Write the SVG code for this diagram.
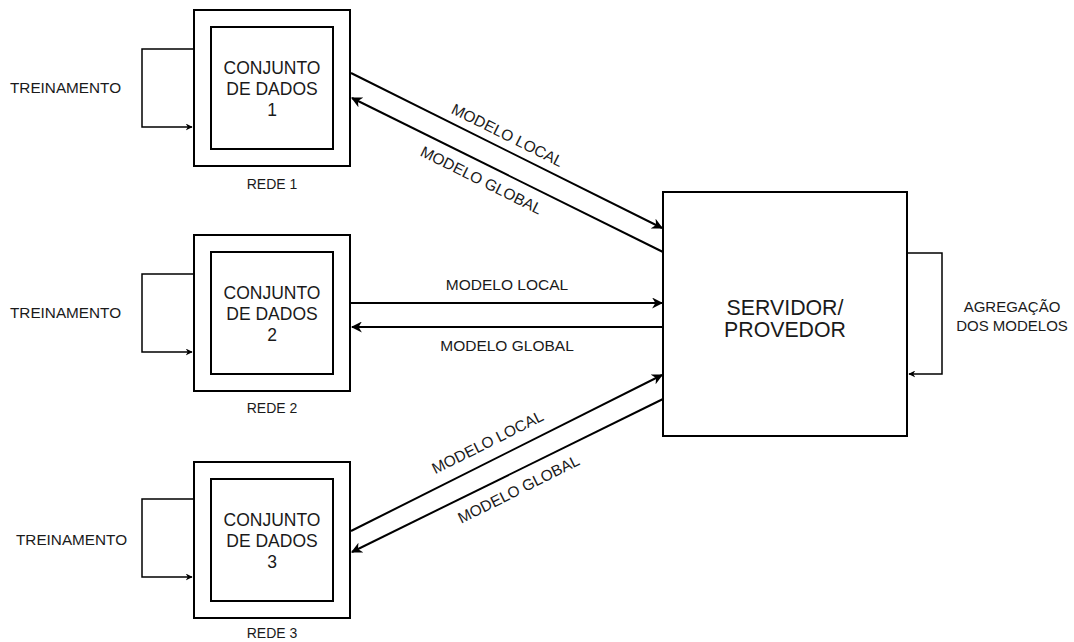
<svg xmlns="http://www.w3.org/2000/svg" width="1074" height="642" viewBox="0 0 1074 642">
<style>
.box{fill:#fff;stroke:#000;stroke-width:2}
.ln{fill:none;stroke:#000;stroke-width:2}
.lp{fill:none;stroke:#000;stroke-width:1.5}
text{font-family:"Liberation Sans",Arial,sans-serif;fill:#1a1a1a}
.t16{font-size:17.5px;text-anchor:middle}
.t14{font-size:15.5px;text-anchor:middle}
.t15{font-size:15px;text-anchor:middle}
.t13{font-size:14px;text-anchor:middle}
.tr{font-size:15.3px}
.t20{font-size:21.3px;text-anchor:middle}
</style>
<defs>
<marker id="ah" viewBox="0 0 10 10" refX="9" refY="5" markerWidth="7" markerHeight="7" markerUnits="userSpaceOnUse" orient="auto">
<path d="M0,0 L10,5 L0,10 L3,5 Z" fill="#000"/>
</marker>
<marker id="ah2" viewBox="0 0 10 10" refX="9" refY="5" markerWidth="11" markerHeight="11" markerUnits="userSpaceOnUse" orient="auto">
<path d="M0,0 L10,5 L0,10 L3,5 Z" fill="#000"/>
</marker>
</defs>
<g id="connectors">
<path class="lp" d="M194,49 H142 V127 H192" marker-end="url(#ah)"/>
<path class="lp" d="M194,274 H142 V352 H192" marker-end="url(#ah)"/>
<path class="lp" d="M194,499 H142 V577 H192" marker-end="url(#ah)"/>
<path class="lp" d="M907,253 H942 V374 H909" marker-end="url(#ah)"/>
<line class="ln" x1="351" y1="73" x2="662" y2="228" marker-end="url(#ah2)"/>
<line class="ln" x1="663" y1="252" x2="352" y2="98" marker-end="url(#ah2)"/>
<line class="ln" x1="351" y1="303" x2="662" y2="303" marker-end="url(#ah2)"/>
<line class="ln" x1="663" y1="327" x2="352" y2="327" marker-end="url(#ah2)"/>
<line class="ln" x1="351" y1="531" x2="662" y2="375" marker-end="url(#ah2)"/>
<line class="ln" x1="663" y1="399" x2="352" y2="552" marker-end="url(#ah2)"/>
<text class="t14" transform="translate(505,140) rotate(26.5)">MODELO LOCAL</text>
<text class="t14" transform="translate(479,185) rotate(26.5)">MODELO GLOBAL</text>
<text class="t14" x="507" y="290">MODELO LOCAL</text>
<text class="t14" x="507" y="351">MODELO GLOBAL</text>
<text class="t14" transform="translate(490,447) rotate(-26.5)">MODELO LOCAL</text>
<text class="t14" transform="translate(521,494) rotate(-26.5)">MODELO GLOBAL</text>
<text class="tr" x="10" y="93">TREINAMENTO</text>
<text class="tr" x="10" y="318">TREINAMENTO</text>
<text class="tr" x="16" y="545">TREINAMENTO</text>
<text class="t15" x="1012" y="312">AGREGAÇÃO</text>
<text class="t15" x="1012" y="331">DOS MODELOS</text>
</g>
<g id="rede1">
<rect class="box" x="194" y="10" width="156" height="156"/>
<rect class="box" x="211" y="27" width="122" height="122"/>
<text class="t16" x="272" y="74">CONJUNTO</text>
<text class="t16" x="272" y="95">DE DADOS</text>
<text class="t16" x="272" y="116">1</text>
<text class="t13" x="272" y="189">REDE 1</text>
</g>
<g id="rede2">
<rect class="box" x="194" y="235" width="156" height="156"/>
<rect class="box" x="211" y="252" width="122" height="122"/>
<text class="t16" x="272" y="299">CONJUNTO</text>
<text class="t16" x="272" y="320">DE DADOS</text>
<text class="t16" x="272" y="341">2</text>
<text class="t13" x="272" y="413">REDE 2</text>
</g>
<g id="rede3">
<rect class="box" x="194" y="462" width="156" height="156"/>
<rect class="box" x="211" y="479" width="122" height="122"/>
<text class="t16" x="272" y="526">CONJUNTO</text>
<text class="t16" x="272" y="547">DE DADOS</text>
<text class="t16" x="272" y="568">3</text>
<text class="t13" x="272" y="638">REDE 3</text>
</g>
<g id="servidor">
<rect class="box" x="663" y="192" width="244" height="244"/>
<text class="t20" x="785" y="315">SERVIDOR/</text>
<text class="t20" x="785" y="337">PROVEDOR</text>
</g>
</svg>
